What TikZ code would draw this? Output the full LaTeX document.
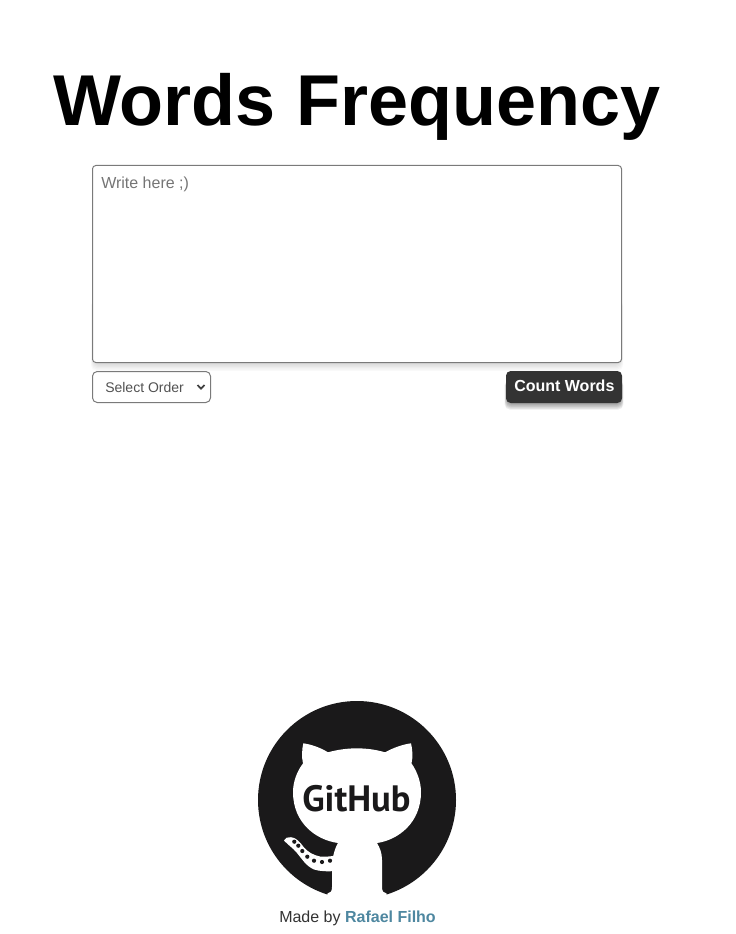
\documentclass[tikz,border=0pt]{standalone}
\usepackage{fontspec}
\setmainfont{Liberation Sans}
\newfontfamily\logofont{PT Sans}
\definecolor{ghblack}{HTML}{1A191A}
\definecolor{bordergray}{HTML}{7A7A7A}
\definecolor{hintgray}{HTML}{757575}
\definecolor{btn}{HTML}{333333}
\definecolor{linkblue}{HTML}{4E87A0}
\begin{document}
\begin{tikzpicture}[x=0.75pt,y=-0.75pt,
  lbl/.style={inner sep=0pt,anchor=base west},
  softshadow/.style={fill=black,opacity=0.022,rounded corners=4pt,draw=none}]
\useasboundingbox (0,0) rectangle (735,934);
\fill[white] (0,0) rectangle (735,934);
\node[lbl,font=\bfseries\fontsize{54pt}{60pt}\selectfont] (title) at (53,126) {Words\hspace{0.7pt} Frequency};
% textarea
\foreach \d in {1,2,3,4,5,6}{
  \fill[softshadow] (94-\d*0.5,300) rectangle (620+\d*0.5,363+\d*1.3);
}
\draw[bordergray,fill=white,line width=0.75pt,rounded corners=2.5pt] (92.5,165.5) rectangle (621.5,362.5);
\node[lbl,text=hintgray,font=\fontsize{12pt}{14pt}\selectfont] (hint) at (101,188.6) {Write here ;)};
% select
\draw[bordergray,fill=white,line width=0.75pt,rounded corners=3.5pt] (92.5,371.5) rectangle (210.5,402.5);
\node[lbl,text=black!68,font=\fontsize{10.5pt}{12pt}\selectfont] (order) at (105,392) {Select Order};
\draw[black!75,line width=1.3pt] (197.5,385) -- (201,388.6) -- (204.5,385);
% button
\foreach \d in {1,2,3,4,5,6}{
  \fill[softshadow,opacity=0.07] (507-\d*0.4,380) rectangle (621+\d*0.4,403+\d*1.1);
}
\fill[btn,rounded corners=3.5pt] (506,371) rectangle (622,403);
\node[lbl,text=white,font=\bfseries\fontsize{12pt}{14pt}\selectfont] (count) at (514,391.2) {Count Words};
% logo
\fill[ghblack] (357,800) circle[radius=99];
% cat silhouette
\fill[white]
  (327,900) -- (327.5,893.5)
  .. controls (330.5,893.5) and (332,891) .. (332,887)
  -- (332,868)
  .. controls (332,857) and (335,848) .. (338,843)
  .. controls (316,840) and (293,823) .. (293,792)
  .. controls (293,782) and (297,771) .. (303,763.5)
  .. controls (301.5,757) and (302,749) .. (303.3,743.3)
  .. controls (312,744.5) and (321,748) .. (328,752.3)
  .. controls (347,747) and (367,747) .. (385,752.3)
  .. controls (393,748) and (402,744.5) .. (411,743.3)
  .. controls (412.5,749) and (413,757) .. (411.5,763.5)
  .. controls (417,771) and (421,782) .. (421,792)
  .. controls (421,823) and (398,840) .. (377,843)
  .. controls (380,848) and (382,853) .. (382,860)
  -- (382,887)
  .. controls (382,891) and (383.5,893.5) .. (386.5,893.5)
  -- (387,900) -- cycle;
% tail
\fill[white]
  (284,840.5)
  .. controls (285,837.5) and (288,837) .. (291,837.2)
  .. controls (296,837.5) and (300,842) .. (304,847.5)
  .. controls (308,852) and (313,855) .. (320,856.5)
  .. controls (325,857) and (330,856.5) .. (336,855.5)
  -- (336,871)
  .. controls (328,871.5) and (320,871.5) .. (314,869.5)
  .. controls (306,866) and (302,859) .. (297,853)
  .. controls (293,848) and (288,845) .. (284,840.5) -- cycle;
\foreach \x/\y in {294.3/841.7,298.3/845.7,302.3/851,307.3/856.7,314/860.7,322/862,330/860.7}{
  \fill[ghblack] (\x,\y) circle[radius=2.1];
}
\node[lbl,anchor=base,text=ghblack,font=\logofont\bfseries\fontsize{27.5pt}{30pt}\selectfont] (gh) at (356.5,811) {GitHub};
% credit
\node[lbl,text=black!80,font=\fontsize{12pt}{14pt}\selectfont] (credit) at (279,922) {Made by \textcolor{linkblue}{\bfseries Rafael Filho}};
\end{tikzpicture}
\end{document}
